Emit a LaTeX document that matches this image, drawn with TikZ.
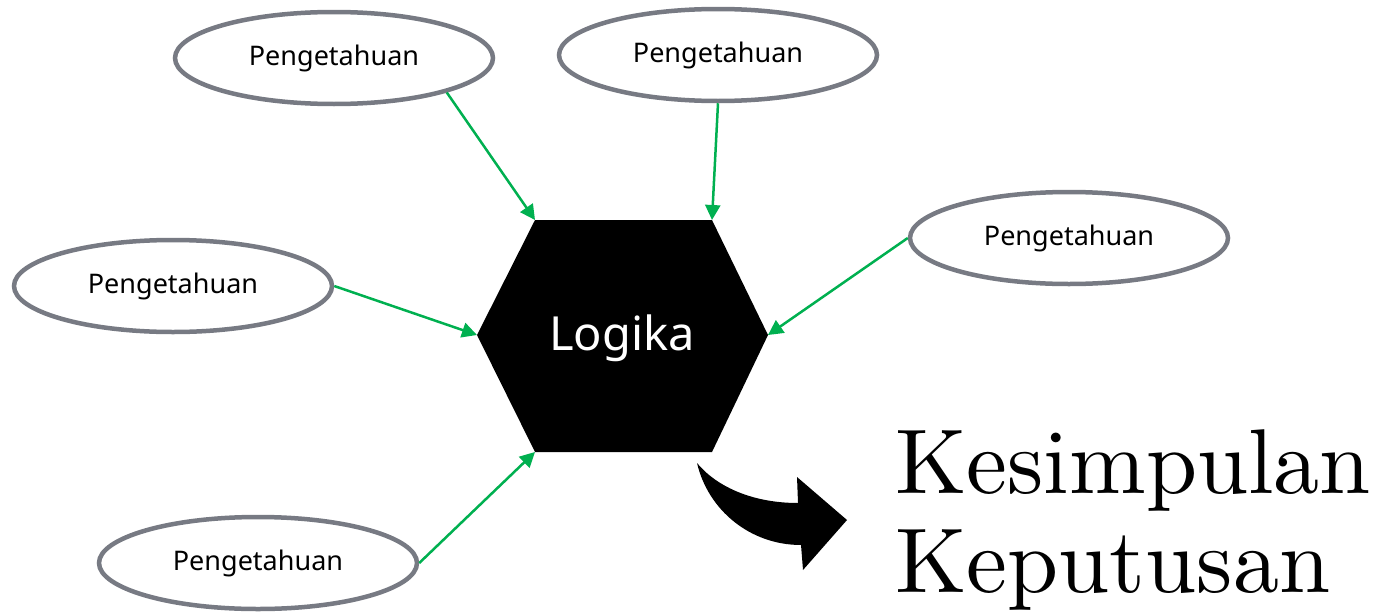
\documentclass[tikz,border=0pt]{standalone}
\usepackage{fontspec}
\newfontfamily\labelfont{Noto Sans}
\newfontfamily\bigfont{lmroman10-regular.otf}
\usetikzlibrary{arrows.meta,shapes.geometric}
\definecolor{ellgray}{HTML}{777A83}
\definecolor{arrgreen}{HTML}{00B050}
\begin{document}
\begin{tikzpicture}[x=1pt,y=-1pt,
  know/.style={draw=ellgray,line width=4.5pt,fill=white,ellipse,minimum width=318pt,minimum height=92pt,inner sep=0pt,font=\labelfont\fontsize{27}{30}\selectfont},
  feed/.style={draw=arrgreen,line width=2.5pt,-{Triangle[length=15pt,width=15pt]}}]
\useasboundingbox (0,0) rectangle (1378,613);
% hexagon
\path[fill=black] (535,220) coordinate (h1) -- (712,220) coordinate (h2) -- (768,335) coordinate (h3)
  -- (712,452) coordinate (h4) -- (535,452) coordinate (h5) -- (477,335) coordinate (h6) -- cycle;
\node[text=white,font=\labelfont\fontsize{47}{52}\selectfont] (logika) at (622,338) {Logika};
% ellipses
\node[know] (k1) at (334,58) {Pengetahuan};
\node[know] (k2) at (718,55) {Pengetahuan};
\node[know] (k3) at (1069,238) {Pengetahuan};
\node[know] (k4) at (173,286) {Pengetahuan};
\node[know] (k5) at (258,563) {Pengetahuan};
% connectors
\draw[feed] (k1.-17) -- (h1);
\draw[feed] (k2.south) -- (h2);
\draw[feed] (k3.west) -- (h3);
\draw[feed] (k4.east) -- (h6);
\draw[feed] (k5.east) -- (h5);
% curved block arrow
\fill[black] (697,463) .. controls (715,485) and (750,503) .. (798,503) -- (797,477) -- (847,520) -- (803,570) -- (801,545)
  .. controls (750,545) and (708,510) .. (697,463) -- cycle;
% conclusion text
\node[anchor=base west,inner sep=0pt,font=\bigfont\fontsize{92}{100}\selectfont] (kes) at (895,493) {Kesimpulan};
\node[anchor=base west,inner sep=0pt,font=\bigfont\fontsize{92}{100}\selectfont] (kep) at (895,592) {Keputusan};
\end{tikzpicture}
\end{document}
